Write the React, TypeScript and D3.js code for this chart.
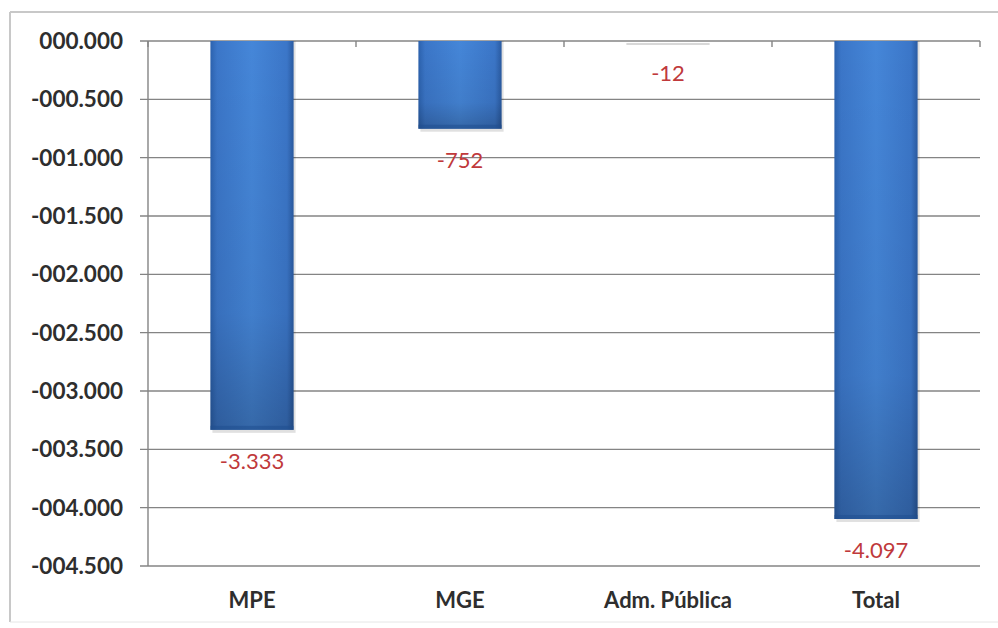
import React from "react";
import * as d3 from "d3";

const categories = ["MPE", "MGE", "Adm. Pública", "Total"];
const values = [-3333, -752, -12, -4097];
const valueLabels = ["-3.333", "-752", "-12", "-4.097"];
const yTicks = [0, -500, -1000, -1500, -2000, -2500, -3000, -3500, -4000, -4500];
const yTickLabels = ["000.000", "-000.500", "-001.000", "-001.500", "-002.000", "-002.500", "-003.000", "-003.500", "-004.000", "-004.500"];

const W = 998, H = 628;
const left = 148, right = 980, top = 41, bottom = 566;

export default function App() {
  const x = d3.scaleBand<string>().domain(categories).range([left, right]).paddingInner(0.6).paddingOuter(0.3);
  const xc = d3.scaleBand<string>().domain(categories).range([left, right]);
  const y = d3.scaleLinear().domain([0, -4500]).range([top, bottom]);
  const font = "Lato, 'Open Sans', sans-serif";
  return (
    <svg width={W} height={H} style={{ position: "absolute", left: 0, top: 0, background: "#fff" }}>
      <defs>
        <linearGradient id="barH" x1="0" x2="1" y1="0" y2="0">
          <stop offset="0" stopColor="#2c62ae" />
          <stop offset="0.08" stopColor="#3b76c8" />
          <stop offset="0.5" stopColor="#4586d8" />
          <stop offset="0.92" stopColor="#3b76c8" />
          <stop offset="1" stopColor="#2a5ba2" />
        </linearGradient>
        <linearGradient id="barV" x1="0" x2="0" y1="0" y2="1">
          <stop offset="0" stopColor="#000" stopOpacity="0" />
          <stop offset="0.7" stopColor="#000" stopOpacity="0.06" />
          <stop offset="1" stopColor="#000" stopOpacity="0.22" />
        </linearGradient>
      </defs>
      {/* outer border */}
      <line x1={10} x2={998} y1={12} y2={12} stroke="#c8c8c8" strokeWidth={2} />
      <line x1={10} x2={10} y1={12} y2={622} stroke="#c8c8c8" strokeWidth={2} />
      <line x1={10} x2={998} y1={622} y2={622} stroke="#e6e6e6" strokeWidth={1} />
      {/* gridlines */}
      {yTicks.map((t, i) => (
        <g key={t}>
          <line x1={140} x2={right} y1={y(t)} y2={y(t)} stroke="#848484" strokeWidth={1.4} />
          <text x={123} y={y(t)} dy="0.36em" textAnchor="end" fontFamily={font} fontWeight="bold" fontSize={22.5} fill="#2e2e2e">
            {yTickLabels[i]}
          </text>
        </g>
      ))}
      <line x1={left} x2={left} y1={top} y2={bottom} stroke="#848484" strokeWidth={1.4} />
      {/* category ticks on zero axis */}
      {[...categories.map((c) => xc(c)!), right].map((tx, i) => (
        <line key={i} x1={tx} x2={tx} y1={top} y2={top + 6} stroke="#848484" strokeWidth={1.4} />
      ))}
      {/* bars */}
      {categories.map((c, i) => {
        const bx = x(c)!;
        const bw = x.bandwidth();
        const y0 = y(0);
        const y1 = y(values[i]);
        const h = Math.max(y1 - y0, 1.5);
        const small = Math.abs(values[i]) < 50;
        return (
          <g key={c}>
            {small ? (
              <rect x={bx} y={y0 + 2} width={bw} height={2} fill="#d8d8d8" />
            ) : (
              <>
                <rect x={bx + 2} y={y0} width={bw} height={h + 3} fill="#000" opacity={0.12} />
                <rect x={bx} y={y0} width={bw} height={h} fill="url(#barH)" />
                <rect x={bx} y={y0} width={bw} height={h} fill="url(#barV)" />
                <rect x={bx} y={y1 - 4} width={bw} height={4} fill="#1f4f8f" opacity={0.55} />
              </>
            )}
            <text x={bx + bw / 2} y={y1 + 31} dy="0.36em" textAnchor="middle" fontFamily={font} fontSize={22} fill="#c0393b">
              {valueLabels[i]}
            </text>
            <text x={xc(c)! + xc.bandwidth() / 2} y={600} dy="0.36em" textAnchor="middle" fontFamily={font} fontWeight="bold" fontSize={22} fill="#2e2e2e">
              {c}
            </text>
          </g>
        );
      })}
    </svg>
  );
}
